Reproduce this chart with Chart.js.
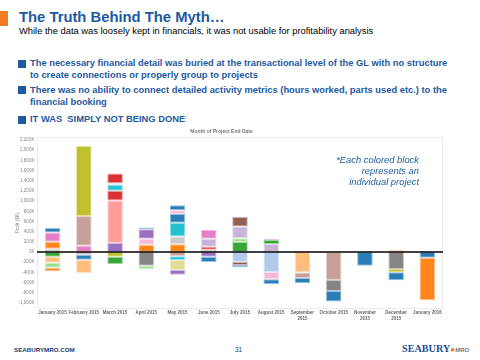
<!DOCTYPE html>
<html>
<head>
<meta charset="utf-8">
<script src="https://cdn.jsdelivr.net/npm/chart.js@4.4.1/dist/chart.umd.min.js"></script>
<style>
  html,body{margin:0;padding:0;background:#fff;}
  body{width:480px;height:360px;position:relative;overflow:hidden;font-family:"Liberation Sans",Arial,sans-serif;}
  .abs{position:absolute;white-space:nowrap;}
  #bar{left:0;top:11px;width:8px;height:15px;background:#f47b20;}
  #title{left:19px;top:9px;font-size:14.8px;font-weight:bold;color:#1d5a9e;}
  #sub{left:19px;top:25.5px;font-size:9.35px;color:#000;}
  .sq{position:absolute;left:18px;width:8px;height:8px;background:#1d5a9e;}
  .bt{position:absolute;left:30px;font-size:9.35px;font-weight:bold;color:#1d5a9e;line-height:11.5px;white-space:nowrap;}
  #note{right:61px;top:154px;font-size:9.4px;font-style:italic;color:#1d5a9e;text-align:right;line-height:11px;}
  #foot1{left:14px;top:346px;font-size:6.2px;font-weight:bold;color:#1a3a6e;}
  #pg{left:235px;top:346px;font-size:6.5px;color:#1a3a6e;}
  #logo{left:402px;top:343px;font-family:"Liberation Serif",serif;font-size:10.2px;font-weight:bold;color:#1d4f91;}
  #logo span{font-family:"Liberation Sans",sans-serif;font-size:6px;color:#777;font-weight:bold;}
  #chartbox{position:absolute;left:0;top:126px;width:444px;height:198px;}
</style>
</head>
<body>
<div id="bar" class="abs"></div>
<div id="title" class="abs">The Truth Behind The Myth…</div>
<div id="sub" class="abs">While the data was loosely kept in financials, it was not usable for profitability analysis</div>

<div class="sq" style="top:60px"></div>
<div class="bt" style="top:58px">The necessary financial detail was buried at the transactional level of the GL with no structure<br>to create connections or properly group to projects</div>
<div class="sq" style="top:86px"></div>
<div class="bt" style="top:85px">There was no ability to connect detailed activity metrics (hours worked, parts used etc.) to the<br>financial booking</div>
<div class="sq" style="top:116px"></div>
<div class="bt" style="top:114px">IT WAS &nbsp;SIMPLY NOT BEING DONE</div>

<div id="chartbox"><canvas id="c"></canvas></div>
<div id="note" class="abs">*Each colored block<br>represents an<br>individual project</div>

<div id="foot1" class="abs">SEABURYMRO.COM</div>
<div id="pg" class="abs">31</div>
<div id="logo" class="abs">SEABURY<span style="color:#f47b20;font-size:8px">&#9679;</span><span>MRO</span></div>

<script>
// ---- data (values in $K) ----
const months = ["January 2015","February 2015","March 2015","April 2015","May 2015","June 2015","July 2015","August 2015",["September","2015"],"October 2015",["November","2015"],["December","2015"],"January 2016"];
const yTicks = [-1000,-800,-600,-400,-200,0,200,400,600,800,1000,1200,1400,1600,1800,2000,2200];
const yTitle = "Profit ($K)";
const xTitle = "Month of Project End Date";

// project blocks per month: positives bottom->top, then negatives top->bottom
const jan15 = [65,137,183,85,-92,-118,-98,-72];
const feb15 = [124,582,1378,-53,-98,-261];
const mar15 = [176,836,190,118,33,190,-92,-144];
const apr15 = [144,118,183,39,-268,-72];
const may15 = [150,157,268,170,78,98,-85,-72,-196,-92];
const jun15 = [45,59,157,176,-92,-104];
const jul15 = [196,72,235,183,-196,-59,-46];
const aug15 = [157,78,26,-392,-144,-98];
const sep15 = [15,-405,-104,-104];
const oct15 = [-549,-216,-209];
const nov15 = [-268];
const dec15 = [46,-333,-65,-157];
const jan16 = [-111,-836];

// colour keys for each block (same order as above)
const jan15c = ["lgray","orange","pink","blue","green","lorange","lgreen","orange"];
const feb15c = ["pink","rosy","olive","rosy","blue","lorange"];
const mar15c = ["purple","salmon","red","cyan","lcyan","red","olive","green"];
const apr15c = ["orange","lpink","purple","blue","gray","lgreen"];
const may15c = ["orange","lgray","cyan","blue","lpink","blue","rosy","cyan","khaki","purple"];
const jun15c = ["rosy","red","lavender","pink","purple","blue"];
const jul15c = ["green","lgreen","lavender","brown","lblue","brown","blue"];
const aug15c = ["lavender","green","pink","lblue","lpink","blue"];
const sep15c = ["lorange","lorange","rosy","blue"];
const oct15c = ["rosy","gray","blue"];
const nov15c = ["blue"];
const dec15c = ["lorange","gray","olive","blue"];
const jan16c = ["blue","orange"];

const palette = {blue:"#1f77b4",lblue:"#aec7e8",orange:"#ff7f0e",lorange:"#ffbb78",green:"#2ca02c",lgreen:"#98df8a",
  red:"#d62728",salmon:"#ff9896",purple:"#9467bd",lavender:"#c5b0d5",brown:"#8c564b",rosy:"#c49c94",pink:"#e377c2",
  lpink:"#f7b6d2",gray:"#7f7f7f",lgray:"#c7c7c7",olive:"#bcbd22",khaki:"#dbdb8d",cyan:"#17becf",lcyan:"#9edae5"};

const blocks = [jan15,feb15,mar15,apr15,may15,jun15,jul15,aug15,sep15,oct15,nov15,dec15,jan16];
const blockColors = [jan15c,feb15c,mar15c,apr15c,may15c,jun15c,jul15c,aug15c,sep15c,oct15c,nov15c,dec15c,jan16c];

function hexA(h,a){const n=parseInt(h.slice(1),16);return `rgba(${n>>16},${(n>>8)&255},${n&255},${a})`;}

const maxLen = Math.max(...blocks.map(b=>b.length));
const datasets = [];
for(let k=0;k<maxLen;k++){
  const data=[],bg=[],bd=[];
  blocks.forEach((b,i)=>{
    if(k<b.length){data.push(b[k]);const col=palette[blockColors[i][k]];bg.push(hexA(col,0.95));bd.push(hexA(col,0.45));}
    else{data.push(null);bg.push("rgba(0,0,0,0)");bd.push("rgba(0,0,0,0)");}
  });
  datasets.push({data,backgroundColor:bg,borderColor:bd,borderWidth:1,borderSkipped:false,barPercentage:0.5,categoryPercentage:1});
}

const frame = {id:"frame",beforeDatasetsDraw(ch){const a=ch.chartArea,c=ch.ctx;c.save();c.strokeStyle="#ebebeb";c.lineWidth=1;
  c.strokeRect(Math.round(a.left)+0.5,Math.round(a.top)+0.5,Math.round(a.right-a.left)-1,Math.round(a.bottom-a.top)-1);c.restore();},
  afterDatasetsDraw(ch){const y=ch.scales.y.getPixelForValue(0),a=ch.chartArea,c=ch.ctx;c.save();c.strokeStyle="#000";c.lineWidth=1.6;
  c.beginPath();c.moveTo(a.left,y);c.lineTo(a.right,y);c.stroke();c.restore();}};

new Chart(document.getElementById("c"),{
  type:"bar",
  data:{labels:months,datasets},
  plugins:[frame],
  options:{
    responsive:true,maintainAspectRatio:false,animation:false,
    layout:{padding:{top:0,right:1,bottom:0,left:0}},
    plugins:{legend:{display:false},tooltip:{enabled:false},
      title:{display:true,text:xTitle,color:"#777",font:{size:5,family:"Liberation Sans"},padding:{top:3,bottom:2}}},
    scales:{
      x:{stacked:true,grid:{display:false,drawTicks:false,tickLength:0},border:{display:false},
        ticks:{color:"#666",font:{size:4.5,family:"Liberation Sans",weight:"bold"},maxRotation:0,autoSkip:false,padding:1.5},
        afterFit(s){s.height=15;}},
      y:{stacked:true,min:-1120,max:2260,grid:{display:false,drawTicks:false,tickLength:0},border:{display:false},
        afterBuildTicks(s){s.ticks=yTicks.map(v=>({value:v}));},
        ticks:{color:"#888",font:{size:4.6,family:"Liberation Sans"},padding:2.5,
          callback:v=>(v<0?"-":"")+Math.abs(v).toLocaleString("en-US")+"K"},
        title:{display:true,text:yTitle,color:"#888",font:{size:4.6,family:"Liberation Sans"},padding:{top:15,bottom:0}},
        afterFit(s){s.width=37;}}
    }
  }
});
</script>
</body>
</html>
